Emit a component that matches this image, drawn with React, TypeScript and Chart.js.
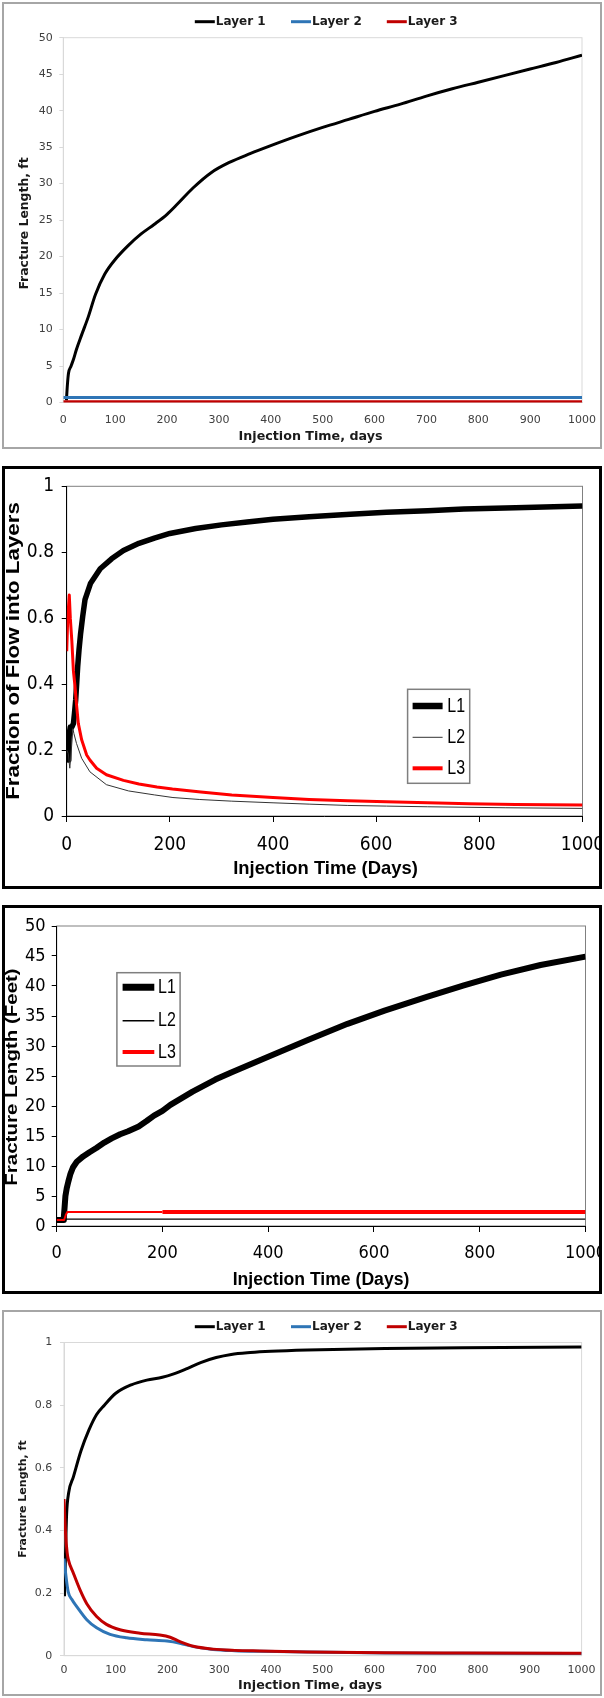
import { useEffect, useRef } from 'react';
import { Chart, registerables } from 'chart.js';

Chart.register(...registerables);

// ---------- Chart 1: fracture length (ft) per layer ----------
const LEN1_L1_DAYS = [6, 8, 10, 15, 20, 25, 35, 48, 62, 80, 100, 125, 150, 175, 200, 220, 250, 285, 320, 360, 400, 450, 500, 550, 600, 650, 700, 750, 800, 850, 900, 950, 1000];
const LEN1_L1_FT = [0.3, 2.5, 4.0, 5.0, 6.0, 7.2, 9.2, 11.7, 14.8, 17.6, 19.6, 21.5, 23.1, 24.4, 25.8, 27.2, 29.4, 31.5, 32.9, 34.1, 35.2, 36.5, 37.7, 38.8, 39.9, 40.9, 42.0, 43.0, 43.9, 44.8, 45.7, 46.6, 47.6];
const LEN1_L2_DAYS = [0, 1000];
const LEN1_L2_FT = [0.7, 0.7];
const LEN1_L3_DAYS = [0, 1000];
const LEN1_L3_FT = [0.1, 0.1];

// ---------- Chart 2: fraction of flow into layers ----------
const FLOW_L1_DAYS = [0, 1, 2, 3, 4, 5, 7, 10, 13, 15, 17.4, 19.4, 21.3, 23.9, 27, 31, 35.5, 46, 65, 87, 110, 140, 170, 200, 250, 300, 350, 400, 470, 550, 620, 700, 770, 870, 1000];
const FLOW_L1 = [0.21, 0.25, 0.21, 0.17, 0.2, 0.25, 0.27, 0.27, 0.28, 0.31, 0.352, 0.403, 0.453, 0.504, 0.554, 0.605, 0.656, 0.705, 0.75, 0.78, 0.805, 0.827, 0.843, 0.857, 0.872, 0.883, 0.892, 0.9, 0.908, 0.915, 0.921, 0.926, 0.931, 0.935, 0.94];
const FLOW_L2_DAYS = [0, 3, 6, 9, 12, 14, 19, 29, 45, 77, 120, 170, 206, 258, 320, 400, 470, 545, 620, 700, 850, 1000];
const FLOW_L2 = [0.2, 0.19, 0.145, 0.2, 0.265, 0.25, 0.22, 0.175, 0.134, 0.095, 0.076, 0.064, 0.056, 0.05, 0.045, 0.04, 0.036, 0.032, 0.03, 0.028, 0.025, 0.023];
const FLOW_L3_DAYS = [0, 2, 5, 7, 10, 13, 16, 19.4, 22.5, 29, 38.7, 45, 58, 77, 110, 140, 175, 205, 260, 320, 400, 470, 545, 620, 700, 780, 870, 1000];
const FLOW_L3 = [0.5, 0.6, 0.67, 0.6, 0.53, 0.44, 0.395, 0.332, 0.281, 0.231, 0.185, 0.17, 0.145, 0.125, 0.108, 0.097, 0.088, 0.082, 0.073, 0.064, 0.056, 0.05, 0.046, 0.043, 0.04, 0.037, 0.035, 0.033];

// ---------- Chart 3: fracture length (feet) ----------
const LEN3_L1_DAYS = [0, 12, 13.5, 15, 16.5, 19, 22, 26, 31, 38, 50, 62, 75, 90, 104, 120, 135, 155, 170, 184, 200, 215, 257, 300, 330, 400, 475, 550, 620, 700, 770, 840, 915, 1000];
const LEN3_L1_FT = [1.0, 1.0, 1.5, 3.2, 5.0, 6.3, 7.4, 8.7, 9.8, 10.7, 11.6, 12.3, 13.0, 13.9, 14.6, 15.3, 15.8, 16.6, 17.5, 18.4, 19.2, 20.2, 22.4, 24.4, 25.6, 28.2, 31.0, 33.7, 35.9, 38.2, 40.1, 41.9, 43.5, 44.9];
const LEN3_L2_DAYS = [0, 1000];
const LEN3_L2_FT = [1.15, 1.15];
const LEN3_L3_DAYS = [0, 14, 17, 20, 200, 1000];
const LEN3_L3_FT = [1.0, 1.0, 1.8, 2.35, 2.35, 2.35];

// ---------- Chart 4: layer fractions ----------
const FRAC4_L1_DAYS = [1, 3, 5, 9, 18, 33, 48, 63, 78, 100, 130, 160, 190, 212, 235, 264, 294, 323, 360, 400, 470, 620, 770, 1000];
const FRAC4_L1 = [0.19, 0.33, 0.45, 0.52, 0.57, 0.655, 0.72, 0.77, 0.8, 0.838, 0.865, 0.88, 0.889, 0.9, 0.915, 0.936, 0.952, 0.962, 0.968, 0.972, 0.976, 0.981, 0.983, 0.986];
const FRAC4_L2_DAYS = [0, 3, 8, 15, 25, 44, 63, 89, 121, 160, 199, 224, 250, 288, 330, 378, 470, 620, 770, 1000];
const FRAC4_L2 = [0.31, 0.265, 0.205, 0.18, 0.156, 0.115, 0.089, 0.068, 0.057, 0.051, 0.047, 0.04, 0.029, 0.02, 0.016, 0.014, 0.012, 0.009, 0.008, 0.007];
const FRAC4_L3_DAYS = [0, 3, 6, 8.4, 18, 31, 44, 63, 82, 108, 147, 185, 205, 224, 250, 288, 330, 378, 470, 620, 770, 1000];
const FRAC4_L3 = [0.5, 0.39, 0.33, 0.307, 0.264, 0.21, 0.166, 0.125, 0.1, 0.083, 0.072, 0.066, 0.059, 0.045, 0.03, 0.021, 0.017, 0.015, 0.012, 0.0095, 0.0085, 0.0075];

const LAYER_NAMES = ['Layer 1', 'Layer 2', 'Layer 3'];
const SHORT_NAMES = ['L1', 'L2', 'L3'];

const VERDANA = "'DejaVu Sans', Verdana, sans-serif";
const NARROW = "'Liberation Sans Narrow', 'Arial Narrow', 'DejaVu Sans Condensed', 'Liberation Sans', sans-serif";
const ARIAL = "'Liberation Sans', Arial, sans-serif";

type Caption = {
  text: string; x: number; y: number; font: string; color: string;
  rot?: number; sx?: number; sy?: number; align?: CanvasTextAlign;
};

type KeySpec = {
  at: [number, number][]; len: number; gap: number; widths: number[];
  font: string; color: string; sy?: number;
  box?: { x: number; y: number; w: number; h: number; color: string; width: number };
};

type AxisSpec = {
  min: number; max: number; step: number; size: number; family: string;
  labelColor: string; lineColor: string; tickLen: number; pad: number;
};

type Area = { left: number; top: number; right: number; bottom: number };

function paintText(ctx: CanvasRenderingContext2D, c: Caption) {
  ctx.save();
  ctx.translate(c.x, c.y);
  if (c.rot) ctx.rotate(c.rot);
  ctx.scale(c.sx ?? 1, c.sy ?? 1);
  ctx.font = c.font;
  ctx.fillStyle = c.color;
  ctx.textAlign = c.align ?? 'center';
  ctx.textBaseline = 'middle';
  ctx.fillText(c.text, 0, 0);
  ctx.restore();
}

// outline of the plotting rectangle, painted underneath the axes
const framePlugin = (color: string) => ({
  id: 'plotFrame',
  beforeDraw(chart: any) {
    const a = chart.chartArea;
    const ctx: CanvasRenderingContext2D = chart.ctx;
    ctx.save();
    ctx.strokeStyle = color;
    ctx.lineWidth = 1;
    ctx.strokeRect(a.left, a.top, a.right - a.left, a.bottom - a.top);
    ctx.restore();
  },
});

const captionPlugin = (items: Caption[]) => ({
  id: 'captions',
  afterDraw(chart: any) {
    items.forEach((c) => paintText(chart.ctx, c));
  },
});

// line-sample legend, one entry per dataset
const keyPlugin = (k: KeySpec) => ({
  id: 'lineKey',
  afterDraw(chart: any) {
    const ctx: CanvasRenderingContext2D = chart.ctx;
    ctx.save();
    if (k.box) {
      ctx.fillStyle = '#ffffff';
      ctx.fillRect(k.box.x, k.box.y, k.box.w, k.box.h);
      ctx.strokeStyle = k.box.color;
      ctx.lineWidth = k.box.width;
      ctx.strokeRect(k.box.x, k.box.y, k.box.w, k.box.h);
    }
    chart.data.datasets.forEach((ds: any, i: number) => {
      const [x, y] = k.at[i];
      ctx.strokeStyle = ds.borderColor;
      ctx.lineWidth = k.widths[i];
      ctx.lineCap = 'butt';
      ctx.beginPath();
      ctx.moveTo(x, y);
      ctx.lineTo(x + k.len, y);
      ctx.stroke();
      paintText(ctx, { text: ds.label, x: x + k.len + k.gap, y, font: k.font, color: k.color, align: 'left', sy: k.sy });
    });
    ctx.restore();
  },
});

const tickText = (v: number | string) => String(Math.round(Number(v) * 100) / 100);

function axis(s: AxisSpec, horizontal: boolean, thickness: number) {
  return {
    type: 'linear',
    min: s.min,
    max: s.max,
    ticks: {
      stepSize: s.step,
      font: { family: s.family, size: s.size },
      color: s.labelColor,
      padding: s.pad,
      autoSkip: false,
      maxRotation: 0,
      minRotation: 0,
      callback: tickText,
    },
    grid: {
      display: true,
      drawOnChartArea: false,
      drawTicks: s.tickLen > 0,
      tickLength: s.tickLen,
      tickColor: s.lineColor,
      color: s.lineColor,
    },
    border: { display: true, color: s.lineColor, width: 1 },
    afterFit: (scale: any) => {
      if (horizontal) scale.height = thickness;
      else scale.width = thickness;
      scale.paddingLeft = 0;
      scale.paddingRight = 0;
      scale.paddingTop = 0;
      scale.paddingBottom = 0;
    },
  };
}

const series = (label: string, xs: number[], ys: number[], color: string, width: number, order: number, extra: object = {}) => ({
  label,
  data: xs.map((x, i) => ({ x, y: ys[i] })),
  borderColor: color,
  backgroundColor: color,
  borderWidth: width,
  pointRadius: 0,
  pointHoverRadius: 0,
  fill: false,
  order,
  ...extra,
});

type PanelSpec = {
  W: number; H: number; area: Area; datasets: any[];
  x: AxisSpec; y: AxisSpec; frame: string; captions: Caption[]; key: KeySpec;
};

function buildConfig(p: PanelSpec): any {
  return {
    type: 'line',
    data: { datasets: p.datasets },
    options: {
      responsive: false,
      animation: false,
      events: [],
      layout: { padding: { left: 0, top: p.area.top, right: p.W - p.area.right, bottom: 0 } },
      plugins: { legend: { display: false }, tooltip: { enabled: false }, title: { display: false } },
      elements: { line: { borderJoinStyle: 'round', borderCapStyle: 'butt' } },
      scales: {
        x: axis(p.x, true, p.H - p.area.bottom),
        y: axis(p.y, false, p.area.left),
      },
    },
    plugins: [framePlugin(p.frame), keyPlugin(p.key), captionPlugin(p.captions)],
  };
}

type Box = { left: number; top: number; width: number; height: number; border: number; color: string };

function ChartPanel({ box, spec }: { box: Box; spec: PanelSpec }) {
  const ref = useRef<HTMLCanvasElement | null>(null);
  useEffect(() => {
    const chart = new Chart(ref.current as HTMLCanvasElement, buildConfig(spec));
    return () => chart.destroy();
  }, []);
  return (
    <div
      style={{
        position: 'absolute', left: box.left, top: box.top, width: box.width, height: box.height,
        boxSizing: 'border-box', border: `${box.border}px solid ${box.color}`, background: '#ffffff',
      }}
    >
      <canvas ref={ref} width={spec.W} height={spec.H} style={{ display: 'block', width: spec.W, height: spec.H }} />
    </div>
  );
}

const XL_BLACK = '#000000';
const XL_BLUE = '#2e75b6';
const XL_RED = '#c00000';
const PURE_RED = '#ff0000';
const XL_TICK = '#404040';
const XL_TITLE = '#1a1a1a';
const UP = -Math.PI / 2;
const smooth = { cubicInterpolationMode: 'monotone' };

const rowKey = (y: number): KeySpec => ({
  at: [[190.8, y], [287, y], [382.8, y]],
  len: 20, gap: 1, widths: [3, 3, 3],
  font: `bold 12px ${VERDANA}`, color: XL_TITLE,
});

const lengthChart: PanelSpec = {
  W: 596, H: 443,
  area: { left: 59.3, top: 33.7, right: 578, bottom: 398.5 },
  datasets: [
    series(LAYER_NAMES[0], LEN1_L1_DAYS, LEN1_L1_FT, XL_BLACK, 3, 0, smooth),
    series(LAYER_NAMES[1], LEN1_L2_DAYS, LEN1_L2_FT, XL_BLUE, 3, -1),
    series(LAYER_NAMES[2], LEN1_L3_DAYS, LEN1_L3_FT, XL_RED, 3, -2),
  ],
  x: { min: 0, max: 1000, step: 100, size: 11, family: VERDANA, labelColor: XL_TICK, lineColor: '#d9d9d9', tickLen: 0, pad: 10.9 },
  y: { min: 0, max: 50, step: 5, size: 11, family: VERDANA, labelColor: XL_TICK, lineColor: '#d9d9d9', tickLen: 4, pad: 6.6 },
  frame: '#d9d9d9',
  captions: [
    { text: 'Injection Time, days', x: 306.5, y: 433, font: `bold 12.7px ${VERDANA}`, color: XL_TITLE },
    { text: 'Fracture Length, ft', x: 21, y: 219.5, rot: UP, font: `bold 12.4px ${VERDANA}`, color: XL_TITLE },
  ],
  key: rowKey(17.7),
};

const flowChart: PanelSpec = {
  W: 594, H: 417,
  area: { left: 61.7, top: 17.3, right: 577.5, bottom: 347 },
  datasets: [
    series(SHORT_NAMES[0], FLOW_L1_DAYS, FLOW_L1, '#000000', 5.5, 0),
    series(SHORT_NAMES[1], FLOW_L2_DAYS, FLOW_L2, '#333333', 1, -1),
    series(SHORT_NAMES[2], FLOW_L3_DAYS, FLOW_L3, PURE_RED, 3, -2),
  ],
  x: { min: 0, max: 1000, step: 200, size: 19, family: NARROW, labelColor: '#000000', lineColor: '#000000', tickLen: 6, pad: 11.6 },
  y: { min: 0, max: 1, step: 0.2, size: 19, family: NARROW, labelColor: '#000000', lineColor: '#000000', tickLen: 5, pad: 7.7 },
  frame: '#808080',
  captions: [
    { text: 'Injection Time (Days)', x: 320.5, y: 399.8, font: `bold 18.4px ${ARIAL}`, color: '#000000' },
    { text: 'Fraction of Flow into Layers', x: 9.5, y: 182, rot: UP, sx: 1.24, font: `bold 18px ${ARIAL}`, color: '#000000' },
  ],
  key: {
    at: [[407.6, 237], [407.6, 268.3], [407.6, 299.3]],
    len: 30, gap: 4.7, widths: [6.5, 1, 4],
    font: `16px ${ARIAL}`, color: '#000000', sy: 1.25,
    box: { x: 402.6, y: 220.3, w: 62.1, h: 94, color: '#7f7f7f', width: 1.5 },
  },
};

const feetChart: PanelSpec = {
  W: 594, H: 383,
  area: { left: 51.7, top: 18, right: 580.5, bottom: 318 },
  datasets: [
    series(SHORT_NAMES[0], LEN3_L1_DAYS, LEN3_L1_FT, '#000000', 6, 0),
    series(SHORT_NAMES[1], LEN3_L2_DAYS, LEN3_L2_FT, '#000000', 1.2, -1),
    series(SHORT_NAMES[2], LEN3_L3_DAYS, LEN3_L3_FT, PURE_RED, 2, -2, {
      segment: { borderWidth: (c: any) => (c.p0.parsed.x >= 200 ? 4 : 2) },
    }),
  ],
  x: { min: 0, max: 1000, step: 200, size: 18, family: NARROW, labelColor: '#000000', lineColor: '#000000', tickLen: 6, pad: 10.5 },
  y: { min: 0, max: 50, step: 5, size: 18, family: NARROW, labelColor: '#000000', lineColor: '#000000', tickLen: 5, pad: 6.2 },
  frame: '#808080',
  captions: [
    { text: 'Injection Time (Days)', x: 316, y: 372, font: `bold 17.6px ${ARIAL}`, color: '#000000' },
    { text: 'Fracture Length (Feet)', x: 7.5, y: 169, rot: UP, sx: 1.28, font: `bold 16px ${ARIAL}`, color: '#000000' },
  ],
  key: {
    at: [[117.6, 79.3], [117.6, 112.7], [117.6, 144]],
    len: 31.7, gap: 3.7, widths: [7, 1.5, 4],
    font: `16px ${ARIAL}`, color: '#000000', sy: 1.3,
    box: { x: 111.9, y: 64.7, w: 63.2, h: 93.3, color: '#7f7f7f', width: 1.5 },
  },
};

const fractionChart: PanelSpec = {
  W: 596, H: 382,
  area: { left: 60, top: 30.5, right: 577.6, bottom: 343.7 },
  datasets: [
    series(LAYER_NAMES[0], FRAC4_L1_DAYS, FRAC4_L1, XL_BLACK, 3, 0, smooth),
    series(LAYER_NAMES[1], FRAC4_L2_DAYS, FRAC4_L2, XL_BLUE, 3, -1, smooth),
    series(LAYER_NAMES[2], FRAC4_L3_DAYS, FRAC4_L3, XL_RED, 3, -2, smooth),
  ],
  x: { min: 0, max: 1000, step: 100, size: 11, family: VERDANA, labelColor: XL_TICK, lineColor: '#d9d9d9', tickLen: 0, pad: 8.2 },
  y: { min: 0, max: 1, step: 0.2, size: 11, family: VERDANA, labelColor: XL_TICK, lineColor: '#d9d9d9', tickLen: 4, pad: 7.7 },
  frame: '#d9d9d9',
  captions: [
    { text: 'Injection Time, days', x: 306, y: 374, font: `bold 12.7px ${VERDANA}`, color: XL_TITLE },
    { text: 'Fracture Length, ft', x: 18.8, y: 187, rot: UP, font: `bold 11px ${VERDANA}`, color: XL_TITLE },
  ],
  key: rowKey(14.7),
};

export default function App() {
  return (
    <div>
      <ChartPanel box={{ left: 2, top: 2, width: 600, height: 447, border: 2, color: '#a6a6a6' }} spec={lengthChart} />
      <ChartPanel box={{ left: 2, top: 466, width: 600, height: 423, border: 3, color: '#000000' }} spec={flowChart} />
      <ChartPanel box={{ left: 2, top: 905, width: 600, height: 389, border: 3, color: '#000000' }} spec={feetChart} />
      <ChartPanel box={{ left: 2, top: 1310, width: 600, height: 386, border: 2, color: '#a6a6a6' }} spec={fractionChart} />
    </div>
  );
}
